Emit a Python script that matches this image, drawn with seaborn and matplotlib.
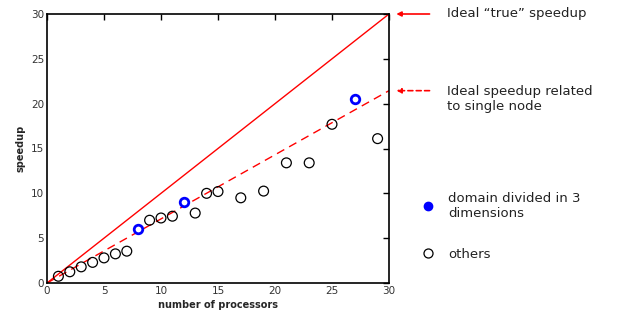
import matplotlib
matplotlib.use("Agg")
import matplotlib.pyplot as plt
from matplotlib.lines import Line2D
import seaborn as sb
import pandas as pd

# measured speedups
others_procs = [1, 2, 3, 4, 5, 6, 7, 9, 10, 11, 13, 14, 15, 17, 19, 21, 23, 25, 29]
others_speedup = [0.75, 1.25, 1.8, 2.3, 2.8, 3.25, 3.55, 7.0, 7.25, 7.45, 7.8,
                  10.0, 10.2, 9.5, 10.25, 13.4, 13.4, 17.7, 16.1]
dom3_procs = [8, 12, 27]
dom3_speedup = [6.0, 9.0, 20.5]

# ideal lines
ideal_x = [0, 30]
ideal_true = [0, 30]
ideal_single = [0, 21.45]

sb.set_style("white")
plt.rcParams['font.family'] = ['DejaVu Sans']

fig = plt.figure(figsize=(6.18, 3.18), dpi=100)
ax = fig.add_axes([47/618, 1 - 283/318, 342/618, 269/318])

sb.lineplot(x=ideal_x, y=ideal_true, color='red', linewidth=1.0, ax=ax)
sb.lineplot(x=ideal_x, y=ideal_single, color='red', linewidth=1.0, ax=ax,
            dashes=False)
ax.lines[-1].set_dashes([6, 4])

others = pd.DataFrame({'p': others_procs, 's': others_speedup})
dom3 = pd.DataFrame({'p': dom3_procs, 's': dom3_speedup})
sb.scatterplot(data=others, x='p', y='s', marker='o', s=50, facecolor='none',
               edgecolor='black', linewidth=0.9, ax=ax, zorder=3)
sb.scatterplot(data=dom3, x='p', y='s', marker='o', s=38, facecolor='white',
               edgecolor='blue', linewidth=2.0, ax=ax, zorder=4)

ax.set_xlim(0, 30)
ax.set_ylim(0, 30)
ax.set_xticks(range(0, 31, 5))
ax.set_yticks(range(0, 31, 5))
ax.tick_params(direction='in', length=4, width=1, top=True, right=True,
               labelsize=7.5, labelcolor='#333333', color='black', pad=2)
for sp in ax.spines.values():
    sp.set_color('black')
    sp.set_linewidth(1.2)
ax.set_xlabel('number of processors', fontsize=7, fontweight='bold', labelpad=3)
ax.set_ylabel('speedup', fontsize=7, fontweight='bold', labelpad=4)

# arrows pointing at the ideal lines
ax.annotate('', xy=(30.4, 30.0), xytext=(33.8, 30.0), annotation_clip=False,
            arrowprops=dict(arrowstyle='-|>', color='red', lw=1.2,
                            mutation_scale=7))
ax.annotate('', xy=(30.4, 21.45), xytext=(33.8, 21.45), annotation_clip=False,
            arrowprops=dict(arrowstyle='-|>', color='red', lw=1.2,
                            linestyle=(0, (3, 2)), mutation_scale=7))
ax.text(35.1, 30.1, 'Ideal \u201ctrue\u201d speedup', fontsize=9.5, va='center',
        color='#222222', clip_on=False)
ax.text(35.1, 20.5, 'Ideal speedup related\nto single node', fontsize=9.5,
        va='center', color='#222222', clip_on=False, linespacing=1.2)

handles = [Line2D([], [], marker='o', linestyle='none', color='blue',
                  markersize=6),
           Line2D([], [], marker='o', linestyle='none', markerfacecolor='none',
                  markeredgecolor='black', markersize=6.5, markeredgewidth=0.9)]
leg = ax.legend(handles, ['domain divided in 3\ndimensions', 'others'],
                loc='upper left', bbox_to_anchor=(1.055, 0.382), frameon=False,
                fontsize=9.5, handletextpad=0.95, labelspacing=2.1,
                handlelength=1.2)
for t in leg.get_texts():
    t.set_color('#222222')

fig.savefig('out.png', dpi=100)
